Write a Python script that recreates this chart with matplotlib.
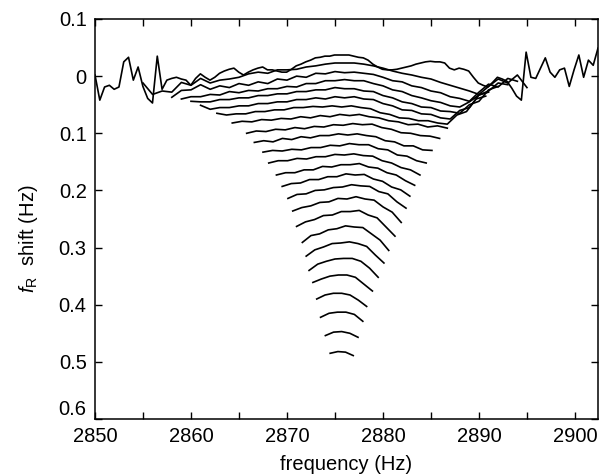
import numpy as np
import matplotlib.pyplot as plt

plt.rcParams['font.family'] = ['Liberation Sans', 'DejaVu Sans']
plt.rcParams['mathtext.fontset'] = 'custom'
plt.rcParams['mathtext.rm'] = 'Liberation Sans'
plt.rcParams['mathtext.it'] = 'Liberation Sans:italic'

# frequency span (Hz) of each trace, top trace first
freq_start = [2850.0, 2855.0, 2858.0, 2859.0, 2860.0, 2861.0, 2862.7, 2864.3, 2865.8,
              2866.6, 2867.5, 2868.1, 2868.9, 2869.5, 2870.1, 2870.6, 2871.0, 2871.6,
              2872.0, 2872.3, 2872.7, 2873.1, 2873.5, 2874.0, 2874.5]
freq_end = [2902.4, 2895.0, 2894.0, 2893.0, 2892.0, 2891.0, 2890.7, 2886.7, 2885.9,
            2885.1, 2884.5, 2883.85, 2883.3, 2882.8, 2882.4, 2881.9, 2881.25, 2880.6,
            2880.1, 2879.5, 2878.9, 2878.3, 2877.9, 2877.4, 2876.9]

# fR shift, in mHz (evenly spaced samples over each span)
shift_mhz = [
    [2, -42, -19, -16, -23, -19, 25, 33, -7, 16, -18, -39, -47, 35, -23, -7, -4, -2, -5, -7,
     -16, -4, 4,
     -2, -7, -2, 5, 9, 12, 14, 7, 2, 7, 11, 14, 16, 11, 11, 9, 7, 7, 12, 18,
     21, 25, 28, 32, 33, 35, 35, 37, 37, 37, 37, 35, 33, 32, 28, 21, 16, 12, 11, 11,
     12, 14, 16, 18, 21, 23, 25, 26, 25, 25, 23, 14, 11, 14, 12, 9, -2, -12, -16, -19,
     -11, -2, -5, -9, -21, -35,
     -42, 42, -2, -4, 14, 32, 7, -2, 11, 14, -18, 11, 37, -2, 28, 19, 49],
    [-12, -32, -26, -28, -11, -16, -4, -12, -7, -5, -2, 4, 7, 5, 11, 11, 12, 16, 18, 21,
     23, 23, 23, 21, 18, 14, 9, 5, 2, -2, -5, -11, -16, -21, -26, -32, -18, -5, -12, 2, -20],
    [-37, -25, -24, -15, -23, -17, -20, -13, -16, -10, -13, -5, -7, 0, -2, 5, 4, 8, 6, 7,
     5, 3, -2, -8, -10, -17, -20, -26, -29, -36, -39, -44, -28, -14, -19, -4, -9],
    [-40, -36, -36, -32, -33, -27, -29, -25, -26, -22, -22, -18, -19, -13, -13, -8, -8, -6,
     -8, -8, -13, -17, -24, -27, -34, -38, -43, -46, -52, -54, -45, -33, -26, -12, -15],
    [-44, -45, -45, -41, -41, -38, -38, -34, -34, -31, -31, -27, -27, -24, -24, -20, -22,
     -22, -26, -27, -34, -38, -45, -48, -54, -55, -61, -62, -65, -50, -44, -24, -18],
    [-51, -58, -55, -55, -52, -52, -48, -48, -45, -45, -41, -41, -38, -40, -36, -38, -36,
     -40, -41, -48, -52, -59, -60, -66, -67, -73, -75, -60, -55, -33, -28],
    [-65, -68, -66, -66, -62, -62, -59, -59, -55, -55, -53, -54, -52, -54, -52, -55, -57,
     -64, -67, -73, -74, -78, -78, -82, -84, -68, -62, -40, -35],
    [-82, -79, -80, -76, -77, -74, -75, -71, -73, -69, -71, -67, -69, -67, -71, -73, -78,
     -80, -85, -84, -89, -87, -91],
    [-100, -96, -97, -93, -94, -90, -92, -88, -89, -85, -86, -83, -85, -84, -90, -93, -99,
     -100, -104, -105, -109],
    [-116, -113, -115, -109, -111, -106, -108, -104, -104, -101, -103, -101, -104, -106,
     -113, -115, -122, -122, -129, -130],
    [-133, -130, -131, -128, -129, -125, -125, -121, -122, -118, -120, -120, -127, -129,
     -138, -140, -148, -152],
    [-152, -148, -148, -144, -145, -141, -141, -137, -138, -136, -139, -140, -148, -152,
     -160, -164, -173],
    [-173, -169, -169, -164, -164, -158, -159, -155, -155, -153, -159, -161, -169, -173,
     -183, -191],
    [-193, -188, -187, -181, -181, -176, -176, -171, -173, -172, -180, -184, -194, -199, -210],
    [-214, -207, -206, -200, -199, -195, -194, -190, -192, -193, -202, -206, -220, -231],
    [-236, -230, -227, -221, -220, -214, -215, -211, -215, -217, -229, -238, -256],
    [-263, -255, -251, -244, -243, -237, -237, -235, -243, -248, -264, -280],
    [-291, -279, -276, -269, -267, -262, -264, -265, -276, -287, -305],
    [-315, -304, -299, -293, -292, -290, -293, -298, -313, -327],
    [-340, -329, -324, -320, -319, -319, -324, -336, -352],
    [-361, -355, -350, -348, -348, -352, -364, -376],
    [-390, -383, -380, -380, -383, -392, -403],
    [-422, -415, -413, -413, -417, -429],
    [-454, -448, -447, -450, -457],
    [-485, -482, -483, -489],
]

x_ticks = [2850, 2860, 2870, 2880, 2890, 2900]
x_minor = [2855, 2865, 2875, 2885, 2895]
y_ticks = [0.1, 0.0, -0.1, -0.2, -0.3, -0.4, -0.5, -0.6]
y_tick_labels = ['0.1', '0', '0.1', '0.2', '0.3', '0.4', '0.5', '0.6']

fig = plt.figure(figsize=(6.03, 4.75), dpi=100)
ax = fig.add_axes([95 / 603, 1 - 419 / 475, 503 / 603, 400 / 475])

for f0, f1, vals in zip(freq_start, freq_end, shift_mhz):
    f = np.linspace(f0, f1, len(vals))
    ax.plot(f, np.array(vals) / 1000.0, color='black', lw=1.2)

ax.set_xlim(2850, 2902.4)
ax.set_ylim(-0.6, 0.1)
ax.set_xticks(x_ticks)
ax.set_xticks(x_minor, minor=True)
ax.set_yticks(y_ticks)
ax.set_yticklabels(y_tick_labels)
ax.tick_params(which='both', direction='in', top=True, right=True,
               length=5, width=1.0, labelsize=14.5)
ax.tick_params(axis='y', pad=6)
ax.tick_params(axis='x', pad=6)
for s in ax.spines.values():
    s.set_linewidth(1.1)

# bottom y label sits just above its tick, clear of the x labels
ax.get_yticklabels()[-1].set_verticalalignment('bottom')

ax.set_xlabel('frequency (Hz)', fontsize=14.5, labelpad=6)
ax.set_ylabel(r'$f_{\rm R}$  shift (Hz)', fontsize=14.5)
ax.yaxis.set_label_coords(-0.11, 0.45)

fig.savefig('out.png', dpi=100)
